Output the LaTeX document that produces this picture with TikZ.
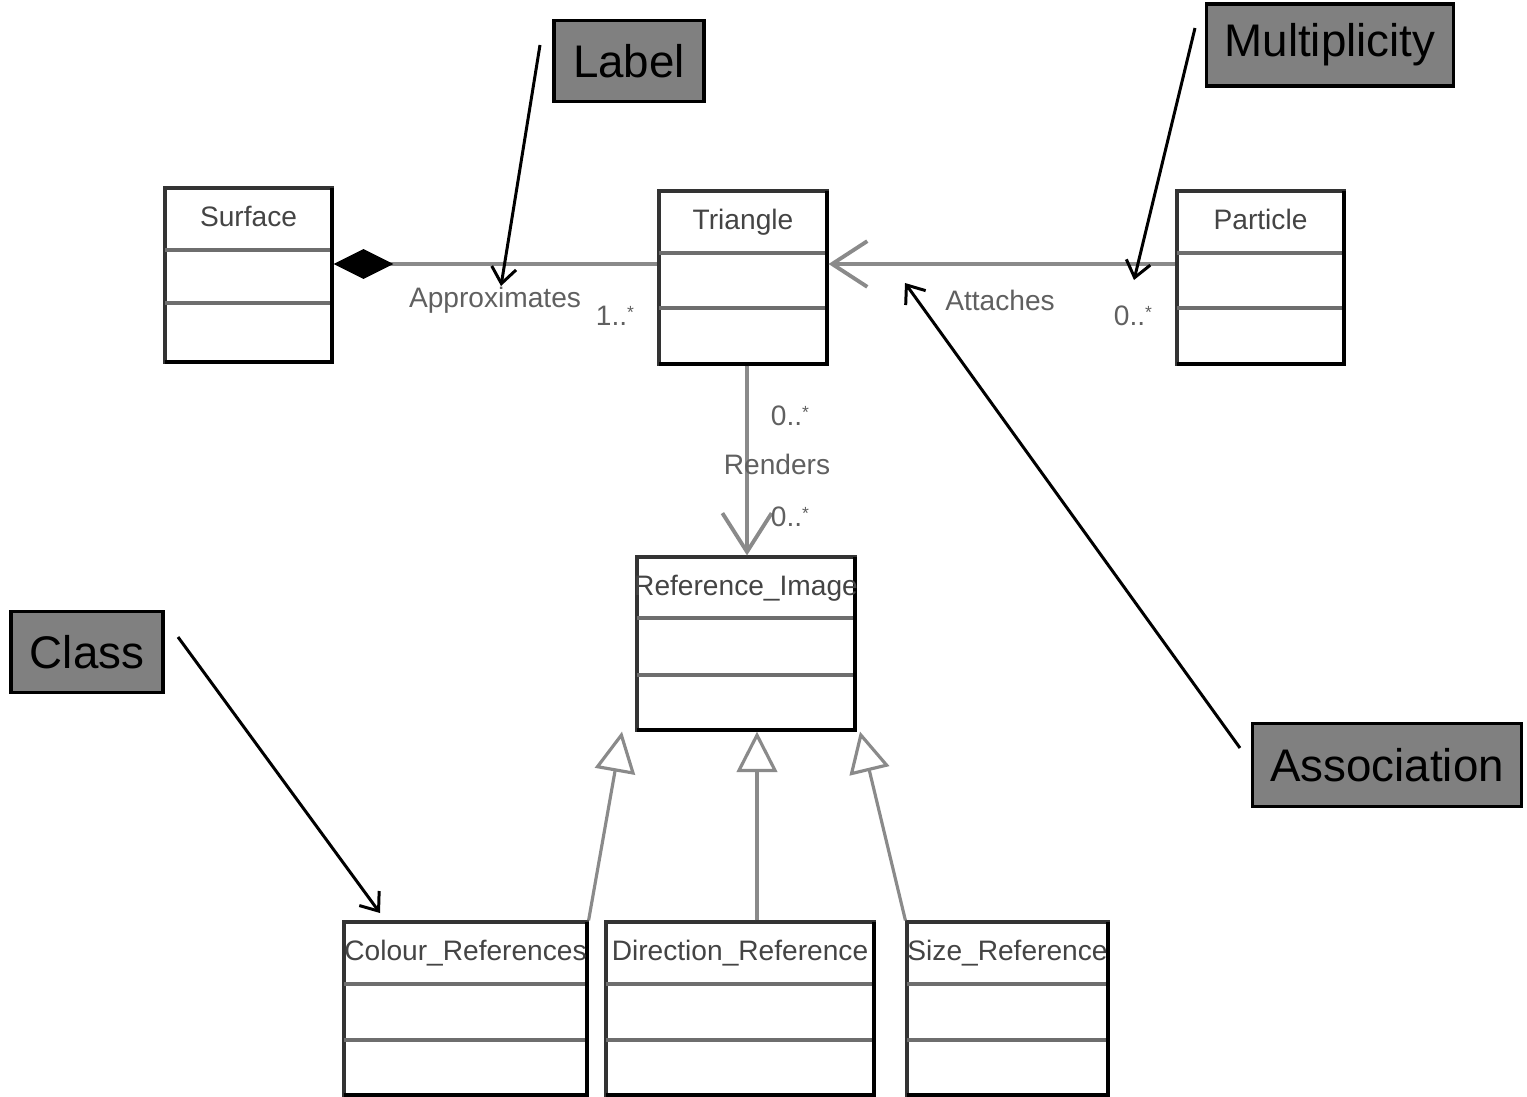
\documentclass[tikz,border=0pt]{standalone}
\usepackage{fontspec}
\setmainfont{Liberation Sans}
\usetikzlibrary{arrows.meta,fit}

\definecolor{edgegray}{HTML}{8A8A8A}
\definecolor{divgray}{HTML}{6E6E6E}
\definecolor{boxline}{HTML}{333333}
\definecolor{txtgray}{HTML}{444444}
\definecolor{notefill}{HTML}{808080}

\tikzset{
  classbox/.style={draw=boxline, line width=0.9pt, fill=white, inner sep=0pt},
  shadowedge/.style={draw=black, line width=1.4pt},
  divider/.style={draw=divgray, line width=1.3pt},
  classname/.style={text=txtgray, font=\fontsize{8}{9}\selectfont, inner sep=0pt,
    text height=1.6ex, text depth=0.45ex},
  edgelabel/.style={text=txtgray!85, font=\fontsize{8}{9}\selectfont, inner sep=1pt},
  assoc/.style={draw=edgegray, line width=1.1pt},
  note/.style={draw=black, line width=1pt, fill=notefill, inner sep=0pt,
    font=\fontsize{13}{15}\selectfont, text=black},
  pointer/.style={draw=black, line width=0.85pt, -{Straight Barb[length=4.5pt,width=7pt]}},
}

% many-multiplicity star, small and raised
\newcommand\manystar{\raisebox{0.45ex}{\fontsize{5}{5}\selectfont *}}

% \umlclass{name}{x1}{y1}{x2}{y2}{divider 1}{divider 2}{title}
\newcommand\umlclass[8]{%
  \path (#2,#3) coordinate (#1-nw) (#4,#5) coordinate (#1-se);
  \node[classbox, fit=(#1-nw)(#1-se)] (#1) {};
  \draw[divider] (#2,#6) -- (#4,#6);
  \draw[divider] (#2,#7) -- (#4,#7);
  \draw[shadowedge] (#4,#3) -- (#4,#5) -- (#2,#5);
  \node[classname] (#1-title) at ({(#2+#4)/2},{(#3+#6)/2-3}) {#8};
}

\begin{document}
\begin{tikzpicture}[x=0.01cm,y=-0.01cm]
\useasboundingbox (0,0) rectangle (1527,1097);

% classes
\umlclass{surface}{165}{188}{332}{362}{250}{303}{Surface}
\umlclass{triangle}{659}{191}{827}{364}{253}{308}{Triangle}
\umlclass{particle}{1177}{191}{1344}{364}{253}{308}{Particle}
\umlclass{refimg}{637}{557}{855}{730}{618}{675}{Reference\_Image}
\umlclass{colour}{344}{922}{587}{1095}{984}{1040}{Colour\_References}
\umlclass{direction}{606}{922}{874}{1095}{984}{1040}{Direction\_Reference}
\umlclass{size}{907}{922}{1108}{1095}{984}{1040}{Size\_Reference}

% composition: Surface <>-- Triangle
\draw[assoc, {Diamond[length=17pt,width=8.5pt,fill=black,color=black]}-]
  (surface.east |- 0,264) -- (triangle.west |- 0,264);
% association: Particle --> Triangle
\draw[assoc, -{Straight Barb[length=10pt,width=13pt]}]
  (particle.west |- 0,264) -- (triangle.east |- 0,264);
% association: Triangle --> Reference_Image
\draw[assoc, -{Straight Barb[length=11pt,width=14pt]}]
  (triangle.south -| 747,0) -- (refimg.north -| 747,0);

% generalisations
\draw[assoc, line width=0.9pt, -{Triangle[open,length=11.5pt,width=11.5pt,fill=white]}]
  (colour.north east) -- (refimg.south -| 622,0);
\draw[assoc, line width=0.9pt, -{Triangle[open,length=11.5pt,width=11.5pt,fill=white]}]
  (direction.north -| 757,0) -- (refimg.south -| 757,0);
\draw[assoc, line width=0.9pt, -{Triangle[open,length=11.5pt,width=11.5pt,fill=white]}]
  (size.north west) -- (refimg.south -| 860,0);

% edge labels
\node[edgelabel] (l-approx) at (495,300) {Approximates};
\node[edgelabel] (l-m1) at (615,316) {1..\manystar};
\node[edgelabel] (l-attach) at (1000,300) {Attaches};
\node[edgelabel] (l-m2) at (1133,316) {0..\manystar};
\node[edgelabel] (l-m3) at (790,416) {0..\manystar};
\node[edgelabel] (l-render) at (777,464) {Renders};
\node[edgelabel] (l-m4) at (790,517) {0..\manystar};

% callouts
\node[note, minimum width=1.5cm, minimum height=0.81cm] (c-label) at (629,61) {Label};
\node[note, minimum width=2.47cm, minimum height=0.82cm] (c-mult) at (1330,45) {Multiplicity};
\node[note, minimum width=1.52cm, minimum height=0.81cm] (c-class) at (87,652) {Class};
\node[note, minimum width=2.69cm, minimum height=0.83cm] (c-assoc) at (1387,765) {Association};

\coordinate (p-label) at (540,45);
\coordinate (p-mult) at (1195,28);
\coordinate (p-class) at (178,637);
\coordinate (p-assoc) at (1240,748);
\coordinate (t-label) at (501,286);
\coordinate (t-mult) at (1134,280);
\coordinate (t-class) at (380,913);
\coordinate (t-assoc) at (905,283);

\draw[pointer] (p-label) -- (t-label);
\draw[pointer] (p-mult) -- (t-mult);
\draw[pointer] (p-class) -- (t-class);
\draw[pointer] (p-assoc) -- (t-assoc);
\end{tikzpicture}
\end{document}
